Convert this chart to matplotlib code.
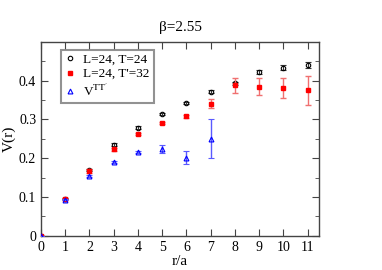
import matplotlib
matplotlib.use("Agg")
import matplotlib.pyplot as plt
import numpy as np

plt.rcParams['font.family'] = ['Liberation Serif', 'DejaVu Serif']
plt.rcParams['mathtext.fontset'] = 'stix'

r = [0, 1, 2, 3, 4, 5, 6, 7, 8, 9, 10, 11]

v_t24 = [0.0, 0.096, 0.170, 0.235, 0.279, 0.314, 0.343, 0.372, 0.393, 0.422, 0.434, 0.441]
e_t24 = [0.0, 0.002, 0.003, 0.003, 0.003, 0.003, 0.003, 0.003, 0.004, 0.005, 0.006, 0.008]

v_t32 = [0.0, 0.095, 0.167, 0.223, 0.263, 0.291, 0.308, 0.341, 0.388, 0.385, 0.382, 0.375]
e_t32 = [0.0, 0.002, 0.004, 0.004, 0.003, 0.003, 0.003, 0.012, 0.019, 0.022, 0.026, 0.038]

r_tt = [0, 1, 2, 3, 4, 5, 6, 7]
v_tt = [0.0, 0.093, 0.154, 0.191, 0.216, 0.223, 0.201, 0.250]
e_tt = [0.0, 0.002, 0.003, 0.003, 0.003, 0.010, 0.017, 0.050]

fig = plt.figure(figsize=(3.82, 2.70), dpi=100)
ax = fig.add_axes([41/382, 1 - 235.7/270, 278/382, 193.7/270])

eb1 = ax.errorbar(r, v_t24, yerr=e_t24, fmt='o', ms=3.2, mfc='none', mec='black',
                  mew=0.8, ecolor='#333333', elinewidth=0.8, capsize=2, zorder=3)
eb2 = ax.errorbar(r, v_t32, yerr=e_t32, fmt='s', ms=3.5, mfc='red', mec='red',
                  ecolor='#f07070', elinewidth=1.0, capsize=2.5, zorder=4)
eb3 = ax.errorbar(r_tt, v_tt, yerr=e_tt, fmt='^', ms=3.5, mfc='none', mec='blue',
                  mew=0.8, ecolor='#5a5aff', elinewidth=1.0, capsize=2.5, zorder=5)

ax.set_xlim(0, 11.47)
ax.set_ylim(0, 0.5)
ax.set_xticks(range(0, 12))
ax.set_yticks([0, 0.1, 0.2, 0.3, 0.4])
ax.set_yticklabels(['0', '0.1', '0.2', '0.3', '0.4'])
ax.set_yticks(np.arange(0.05, 0.5, 0.1), minor=True)
ax.tick_params(which='both', direction='in', top=True, right=True, labelsize=10,
               color='#444444')
ax.tick_params(which='major', length=5)
ax.tick_params(which='minor', length=3)
for s in ax.spines.values():
    s.set_color('#444444')
    s.set_linewidth(1.0)

ax.set_xlabel('r/a', fontsize=11, labelpad=1)
ax.set_ylabel('V(r)', fontsize=11, labelpad=2)
ax.set_title('β=2.55', fontsize=11, pad=8)

leg = ax.legend([eb1[0], eb2[0], eb3[0]], ['L=24, T=24', "L=24, T'=32", "V$^{\\rm TT'}$"],
                loc='upper left', bbox_to_anchor=(0.072, 0.96), fontsize=9.5,
                frameon=True, fancybox=False, handlelength=0.8, handletextpad=0.6,
                borderpad=0.3, labelspacing=0.15, borderaxespad=0)
leg.get_frame().set_edgecolor('#777777')
leg.get_frame().set_linewidth(1.5)

fig.savefig('out.png', dpi=100)
